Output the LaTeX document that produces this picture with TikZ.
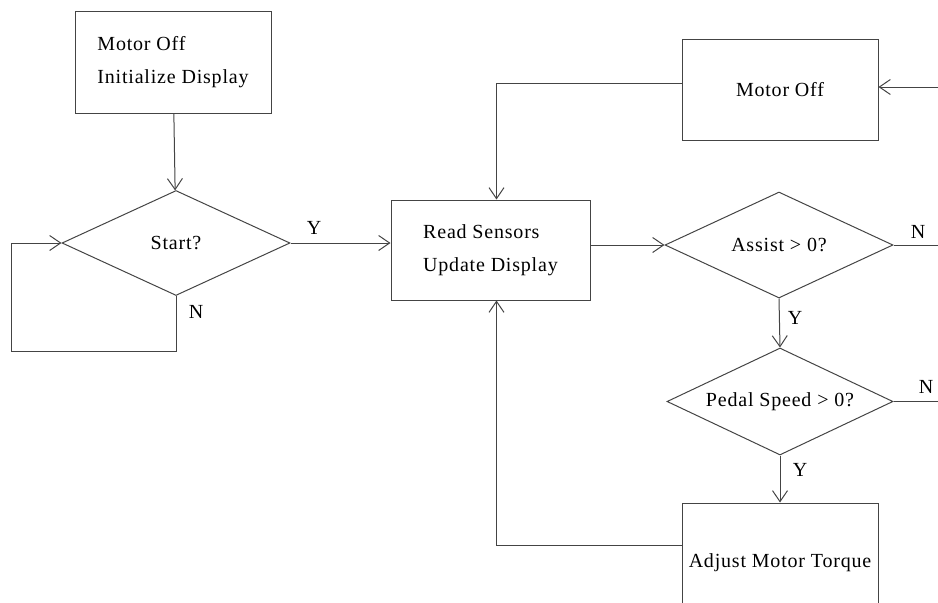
\documentclass[tikz,border=0pt]{standalone}
\usepackage{fontspec}
\setmainfont[LetterSpace=4]{Liberation Serif}
\usepackage{tikz}
\usetikzlibrary{arrows.meta,positioning,shapes.geometric}
\definecolor{linegray}{HTML}{444444}
\tikzset{
  procbox/.style={
    draw=linegray, line width=1pt, fill=white,
    font=\fontsize{20}{33}\selectfont, align=left,
    inner sep=0pt,
  },
  decbox/.style={
    draw=linegray, line width=1pt, diamond, aspect=2.2, inner sep=0pt,
    font=\fontsize{20}{25}\selectfont,
  },
  arrow/.style={-{Straight Barb[length=11pt,width=15pt]}, line width=1pt, color=linegray},
  line/.style={line width=1pt, color=linegray},
  lbl/.style={font=\fontsize{20}{25}\selectfont},
}
\begin{document}
\begin{tikzpicture}[x=1pt,y=-1pt]
  \useasboundingbox (0,0) rectangle (938,603);
  \clip (0,0) rectangle (938,603);

  % process boxes
  \node[procbox, minimum width=196pt, minimum height=102pt] (init) at (173,62)
    {Motor Off\\Initialize Display};
  \node[procbox, minimum width=199pt, minimum height=100pt] (rs) at (490.5,250)
    {Read Sensors\\Update Display};
  \node[procbox, minimum width=196pt, minimum height=101pt] (moff) at (780,89.5)
    {Motor Off};
  \node[procbox, minimum width=196pt, minimum height=120pt] (adj) at (780,563)
    {Adjust Motor Torque};

  % decisions
  \node[decbox, minimum width=228pt, minimum height=105pt] (start) at (176,243) {Start?};
  \node[decbox, minimum width=228pt, minimum height=106pt] (assist) at (779,245) {Assist > 0?};
  \node[decbox, minimum width=226pt, minimum height=107pt] (pedal) at (780,401.5) {Pedal Speed > 0?};

  % free ends at the right edge
  \coordinate (inR) at (945,87);
  \coordinate (nA) at (945,245);
  \coordinate (nP) at (945,401.5);

  \draw[arrow] (init) -- (start);
  \draw[arrow] (start.south) -- ++(0,55) -| ([xshift=-50pt]start.west) -- (start.west);
  \draw[arrow] (start.east) -- (start.east -| rs.west);
  \draw[arrow] (inR) -- (inR -| moff.east);
  \draw[arrow] ([yshift=6pt]moff.west) -| ([xshift=6pt]rs.north);
  \draw[arrow] (rs.east |- assist.west) -- (assist.west);
  \draw[line] (assist.east) -- (nA);
  \draw[arrow] (assist.south) -- (pedal.north);
  \draw[line] (pedal.east) -- (nP);
  \draw[arrow] (pedal.south) -- (adj.north);
  \draw[arrow] ([yshift=18pt]adj.west) -| ([xshift=6pt]rs.south);

  % branch labels
  \node[lbl] (y1) at (314,228) {Y};
  \node[lbl] (n1) at (196,312) {N};
  \node[lbl] (n2) at (918,232) {N};
  \node[lbl] (y2) at (795,318) {Y};
  \node[lbl] (n3) at (926,387) {N};
  \node[lbl] (y3) at (800,470) {Y};
\end{tikzpicture}
\end{document}
